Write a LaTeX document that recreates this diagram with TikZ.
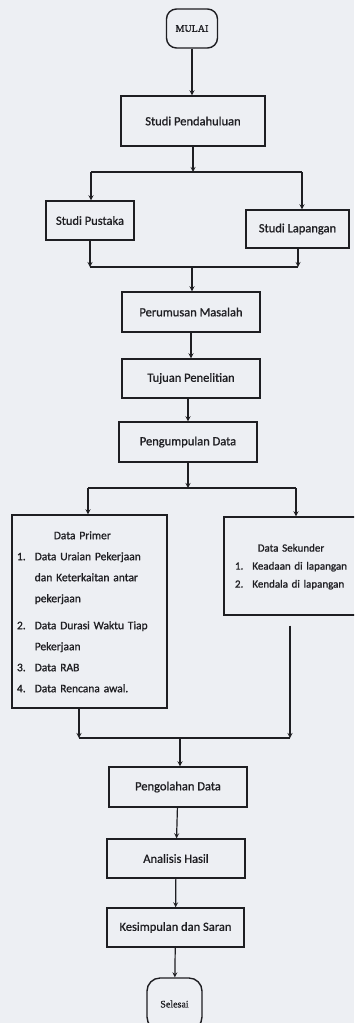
\documentclass[tikz,border=0pt]{standalone}
\usepackage{fontspec}
\setmainfont{Carlito}[UprightFeatures={FakeBold=1}]
\newfontfamily\termfont{Liberation Serif}[UprightFeatures={FakeBold=1}]
\usepackage{tikz}
\usetikzlibrary{calc, positioning, arrows}
\definecolor{paper}{RGB}{237,239,243}
\definecolor{ink}{RGB}{30,30,34}
\tikzstyle{blk}=[draw=ink, line width=1.4pt, rectangle, inner sep=0pt, text=ink, font=\fontsize{12.5}{15}\selectfont]
\tikzstyle{term}=[draw=ink, line width=1.4pt, rectangle, rounded corners=10pt, inner sep=0pt, text=ink, font=\termfont\fontsize{10}{12}\selectfont]
\tikzstyle{lst}=[draw=ink, line width=1.4pt, rectangle, inner ysep=0pt, text=ink]
\tikzset{>=stealth}

\begin{document}
\begin{tikzpicture}[x=1pt, y=-1pt, line width=1.2pt]
\clip (0,0) rectangle (354,1023);
\fill[paper] (0,0) rectangle (354,1023);
% the boxes
\node[term, minimum width=51pt, minimum height=39pt] (mulai) at (192,28.5) {MULAI};
\node[blk, minimum width=144pt, minimum height=50pt] (pend) at (193,121) {Studi Pendahuluan};
\node[blk, minimum width=88pt, minimum height=39pt] (pustaka) at (90,220.5) {Studi Pustaka};
\node[blk, minimum width=103pt, minimum height=38pt] (lapangan) at (297.5,229) {Studi Lapangan};
\node[blk, minimum width=138pt, minimum height=40pt] (rumusan) at (191,312) {Perumusan Masalah};
\node[blk, minimum width=138pt, minimum height=39pt] (tujuan) at (191,378.5) {Tujuan Penelitian};
\node[blk, minimum width=138pt, minimum height=40pt] (kumpul) at (188,442) {Pengumpulan Data};
\node[lst, inner xsep=5pt, text width=145pt, minimum height=193pt, font=\fontsize{11.5}{21}\selectfont] (primer) at (89.5,611.5) {%
  \begin{tabular}{@{}l@{\hspace{9pt}}l@{}}
  \multicolumn{2}{c}{Data Primer}\\
  1. & Data Uraian Pekerjaan\\
     & dan Keterkaitan antar\\
     & pekerjaan\\[6pt]
  2. & Data Durasi Waktu Tiap\\
     & Pekerjaan\\
  3. & Data RAB\\
  4. & Data Rencana awal.
  \end{tabular}};
\node[lst, inner xsep=11pt, text width=112pt, minimum height=98pt, font=\fontsize{11}{18}\selectfont] (sekunder) at (291,566) {%
  \begin{tabular}{@{}l@{\hspace{9pt}}l@{}}
  \multicolumn{2}{c}{Data Sekunder}\\
  1. & Keadaan di lapangan\\
  2. & Kendala di lapangan
  \end{tabular}};
\node[blk, minimum width=138pt, minimum height=40pt] (olah) at (178,787) {Pengolahan Data};
\node[blk, minimum width=138pt, minimum height=39pt] (analisis) at (176,858.5) {Analisis Hasil};
\node[blk, minimum width=137pt, minimum height=39pt] (simpul) at (175.5,927.5) {Kesimpulan dan Saran};
\node[term, rounded corners=13pt, minimum width=55pt, minimum height=52pt] (selesai) at (174.5,1004) {Selesai};
% the junctions
\coordinate (s1) at (193,172);
\coordinate (s1l) at (91,172);
\coordinate (s1r) at (302,172);
\coordinate (m1) at (192,267);
\coordinate (m1l) at (90,267);
\coordinate (m1r) at (298,267);
\coordinate (s2) at (188,488);
\coordinate (s2l) at (88,488);
\coordinate (s2r) at (296,488);
\coordinate (m2) at (180,738);
\coordinate (m2l) at (79,738);
\coordinate (m2r) at (290,738);
% the connectors
\begin{scope}[draw=ink]
\draw[->] (mulai.south) -- (mulai.south |- pend.north);
\draw[->] (pend.south -| s1) -- (s1);
\draw (s1l) -- (s1r);
\draw[->] (s1l) -- (s1l |- pustaka.north);
\draw[->] (s1r) -- (s1r |- lapangan.north);
\draw[->] (pustaka.south -| m1l) -- (m1l);
\draw[->] (lapangan.south -| m1r) -- (m1r);
\draw (m1l) -- (m1r);
\draw[->] (m1) -- (m1 |- rumusan.north);
\draw[->] (rumusan) -- (tujuan);
\draw[->] (kumpul.north |- tujuan.south) -- (kumpul.north);
\draw[->] (kumpul.south -| s2) -- (s2);
\draw (s2l) -- (s2r);
\draw[->] (s2l) -- (s2l |- primer.north);
\draw[->] (s2r) -- (s2r |- sekunder.north);
\draw[->] (primer.south -| m2l) -- (m2l);
\draw[->, shorten <=10pt] (sekunder.south -| m2r) -- (m2r);
\draw (m2l) -- (m2r);
\draw[->] (m2) -- (m2 |- olah.north);
\draw[->] (olah) -- (analisis);
\draw[->] (analisis) -- (simpul);
\draw[->] (simpul) -- (selesai);
\end{scope}
\end{tikzpicture}
\end{document}
